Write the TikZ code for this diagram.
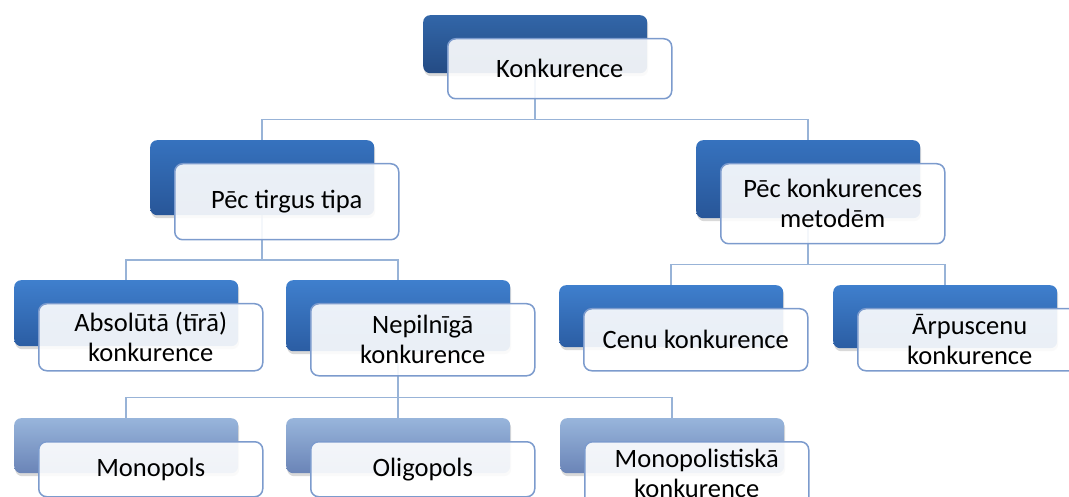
\documentclass[tikz,border=0pt]{standalone}
\usepackage{fontspec}
\setmainfont{Carlito}
\usepackage{tikz}
\usetikzlibrary{positioning, calc, shadows, backgrounds}
\definecolor{topblueA}{RGB}{50,102,168}
\definecolor{botblueA}{RGB}{36,75,132}
\definecolor{topblueB}{RGB}{54,114,190}
\definecolor{botblueB}{RGB}{40,86,152}
\definecolor{topblueC}{RGB}{63,127,205}
\definecolor{botblueC}{RGB}{43,93,163}
\definecolor{toppale}{RGB}{152,181,219}
\definecolor{botpale}{RGB}{106,132,183}
\definecolor{myedge}{RGB}{124,155,205}
\definecolor{mylink}{RGB}{152,179,215}
\tikzset{
  backbox/.style={rectangle, rounded corners=7pt, minimum width=224pt,
    inner sep=0pt, anchor=north west,
    drop shadow={shadow xshift=1pt, shadow yshift=-3pt, opacity=0.3}},
  headbox/.style={backbox, top color=topblueA, bottom color=botblueA},
  midbox/.style={backbox, top color=topblueB, bottom color=botblueB},
  lowbox/.style={backbox, top color=topblueC, bottom color=botblueC},
  palebox/.style={backbox, top color=toppale, bottom color=botpale},
  frontbox/.style={rectangle, draw=myedge, fill=white, fill opacity=0.9,
    text opacity=1, rounded corners=8pt, line width=1.5pt,
    minimum width=224pt, inner sep=0pt, anchor=north west, align=center,
    font=\fontsize{26.5}{30}\selectfont},
  link/.style={draw=mylink, line width=1.5pt}
}

\begin{document}
\begin{tikzpicture}[x=1pt, y=-1pt]
  \useasboundingbox (0,0) rectangle (1069,497);

  \node[headbox, minimum height=58pt] (konk) at (423,15) {};
  \node[frontbox, minimum height=60pt] (konkw) at ($(konk.north west)+(24,23)$) {Konkurence};

  \node[midbox, minimum height=75pt] (tirg) at (150,140) {};
  \node[frontbox, minimum height=76pt] (tirgw) at ($(tirg.north west)+(24,23)$) {Pēc tirgus tipa};
  \node[midbox, minimum height=78pt] (meto) at (696,140) {};
  \node[frontbox, minimum height=80pt] (metow) at ($(meto.north west)+(24,23)$) {Pēc konkurences\\metodēm};

  \node[lowbox, minimum height=66pt] (absl) at (14,280) {};
  \node[frontbox, minimum height=67pt] (abslw) at ($(absl.north west)+(24,23)$) {Absolūtā (tīrā)\\konkurence};
  \node[lowbox, minimum height=71pt] (nepi) at (286,280) {};
  \node[frontbox, minimum height=72pt] (nepiw) at ($(nepi.north west)+(24,23)$) {Nepilnīgā\\konkurence};
  \node[lowbox, minimum height=62pt] (cenu) at (559,285) {};
  \node[frontbox, minimum height=62pt] (cenuw) at ($(cenu.north west)+(24,23)$) {Cenu konkurence};
  \node[lowbox, minimum height=63pt] (arpu) at (833,285) {};
  \node[frontbox, minimum height=62pt] (arpuw) at ($(arpu.north west)+(24,23)$) {Ārpuscenu\\konkurence};

  \node[palebox, minimum height=55pt] (mono) at (14,418) {};
  \node[frontbox, minimum height=55pt] (monow) at ($(mono.north west)+(24,23)$) {Monopols};
  \node[palebox, minimum height=55pt] (olig) at (286,418) {};
  \node[frontbox, minimum height=55pt] (oligw) at ($(olig.north west)+(24,23)$) {Oligopols};
  \node[palebox, minimum height=55pt] (mpol) at (560,418) {};
  \node[frontbox, minimum height=64pt] (mpolw) at ($(mpol.north west)+(24,23)$) {Monopolistiskā\\konkurence};

  \begin{scope}[on background layer]
    \coordinate (busA) at ($(konkw.south)!.5!(tirg.north)$);
    \coordinate (busB) at ($(tirgw.south)!.5!(absl.north)$);
    \coordinate (busC) at ($(metow.south)!.5!(cenu.north)$);
    \coordinate (busD) at ($(nepiw.south)!.5!(mono.north)$);
    \draw[link] (konk.center) -- (konk.center |- busA);
    \draw[link] (tirg.center) |- (busA) -| (meto.center);
    \draw[link] (tirg.center) -- (tirg.center |- busB);
    \draw[link] (absl.center) |- (busB) -| (nepi.center);
    \draw[link] (meto.center) -- (meto.center |- busC);
    \draw[link] (cenu.center) |- (busC) -| (arpu.center);
    \draw[link] (nepi.center) -- (olig.center);
    \draw[link] (mono.center) |- (busD) -| (mpol.center);
  \end{scope}
\end{tikzpicture}
\end{document}
